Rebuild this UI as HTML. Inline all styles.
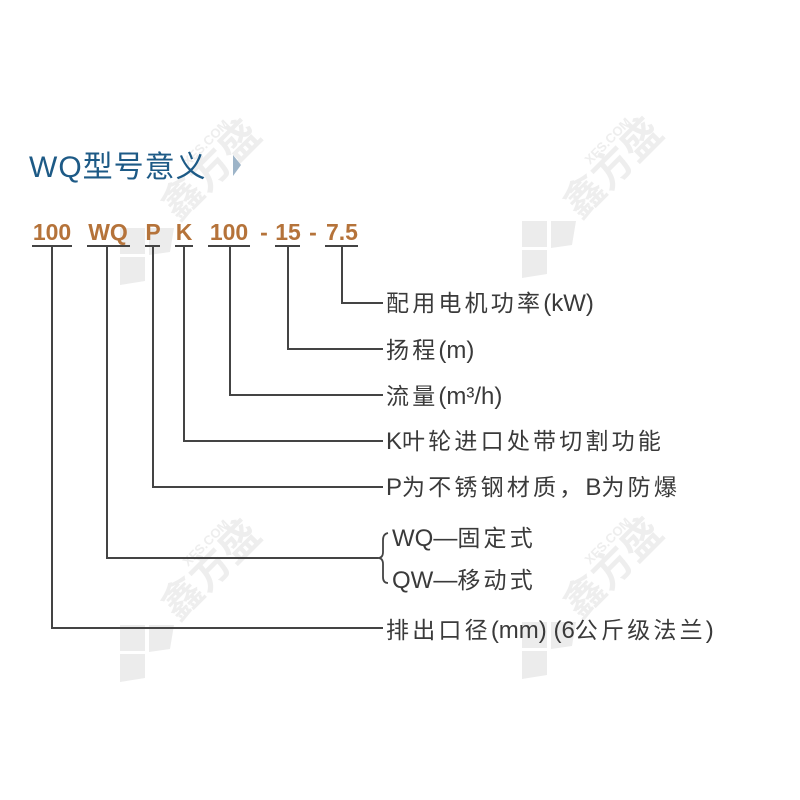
<!DOCTYPE html>
<html><head><meta charset="utf-8"><style>
html,body{margin:0;padding:0;background:#fff;}
svg{display:block;}
.l{font-size:24px;letter-spacing:0;}
</style></head><body>
<svg width="800" height="800" viewBox="0 0 800 800" xmlns="http://www.w3.org/2000/svg">
<rect width="800" height="800" fill="#fff"/>
<!-- watermarks -->
<g fill="#ececec">
  <g transform="translate(522,221)">
    <path d="M0 0h25v26h-25z M29 0h25l-4 24-21 3z M0 29h25v24l-25 4z"/>
  </g>
  <g transform="translate(120,228)">
    <path d="M0 0h25v26h-25z M29 0h25l-4 24-21 3z M0 29h25v24l-25 4z"/>
  </g>
  <g transform="translate(522,622)">
    <path d="M0 0h25v26h-25z M29 0h25l-4 24-21 3z M0 29h25v24l-25 4z"/>
  </g>
  <g transform="translate(120,625)">
    <path d="M0 0h25v26h-25z M29 0h25l-4 24-21 3z M0 29h25v24l-25 4z"/>
  </g>
</g>
<g font-family="Liberation Sans, Noto Sans CJK SC, sans-serif" fill="#eeeeee" font-weight="bold">
  <text x="0" y="0" font-size="40" transform="translate(580,220) rotate(-45)">鑫方盛</text>
  <text x="0" y="0" font-size="13" transform="translate(590,165) rotate(-45)">XFS.COM</text>
  <text x="0" y="0" font-size="40" transform="translate(178,222) rotate(-45)">鑫方盛</text>
  <text x="0" y="0" font-size="13" transform="translate(188,167) rotate(-45)">XFS.COM</text>
  <text x="0" y="0" font-size="40" transform="translate(580,620) rotate(-45)">鑫方盛</text>
  <text x="0" y="0" font-size="13" transform="translate(590,565) rotate(-45)">XFS.COM</text>
  <text x="0" y="0" font-size="40" transform="translate(178,622) rotate(-45)">鑫方盛</text>
  <text x="0" y="0" font-size="13" transform="translate(188,567) rotate(-45)">XFS.COM</text>
</g>
<!-- title -->
<text x="29" y="177" font-family="Liberation Sans, Noto Sans CJK SC, sans-serif" font-size="30" fill="#1d5a86" letter-spacing="1">WQ型号意义</text>
<path d="M233 155 L241 165 L233 176 Z" fill="#9db4c8"/>
<!-- code -->
<g font-family="Liberation Sans, sans-serif" font-size="23" font-weight="bold" fill="#b5733a" text-anchor="middle">
  <text x="52" y="240">100</text>
  <text x="108" y="240">WQ</text>
  <text x="153" y="240">P</text>
  <text x="184" y="240">K</text>
  <text x="229" y="240">100</text>
  <text x="264" y="240">-</text>
  <text x="288" y="240">15</text>
  <text x="313" y="240">-</text>
  <text x="342" y="240">7.5</text>
</g>
<!-- lines -->
<g stroke="#444" stroke-width="2" fill="none">
  <path d="M32 246h40 M87 246h43 M145 246h15 M175 246h18 M208 246h42 M275 246h25 M325 246h33"/>
  <path d="M342 246V303H383"/>
  <path d="M288 246V349H383"/>
  <path d="M230 246V395H383"/>
  <path d="M184 246V441H383"/>
  <path d="M153 246V487H383"/>
  <path d="M107 246V558H378"/>
  <path d="M52 246V628H383"/>
  <path d="M388 533 Q383 534 383 540 V552 Q383 558 378 558 Q383 558 383 564 V577 Q383 583 388 583" stroke-width="1.8"/>
</g>
<!-- labels -->
<g font-family="Liberation Sans, Noto Sans CJK SC, sans-serif" font-size="23" fill="#3a3a3a" letter-spacing="3.2">
  <text x="386" y="311">配用电机功率<tspan class="l">(kW)</tspan></text>
  <text x="386" y="358">扬程<tspan class="l">(m)</tspan></text>
  <text x="386" y="404">流量<tspan class="l">(m³/h)</tspan></text>
  <text x="386" y="449"><tspan class="l">K</tspan>叶轮进口处带切割功能</text>
  <text x="386" y="495"><tspan class="l">P</tspan>为不锈钢材质，<tspan class="l">B</tspan>为防爆</text>
  <text x="392" y="546"><tspan class="l">WQ—</tspan>固定式</text>
  <text x="392" y="588"><tspan class="l">QW—</tspan>移动式</text>
  <text x="386" y="638">排出口径<tspan class="l">(mm) (6</tspan>公斤级法兰<tspan class="l">)</tspan></text>
</g>
</svg>
</body></html>
